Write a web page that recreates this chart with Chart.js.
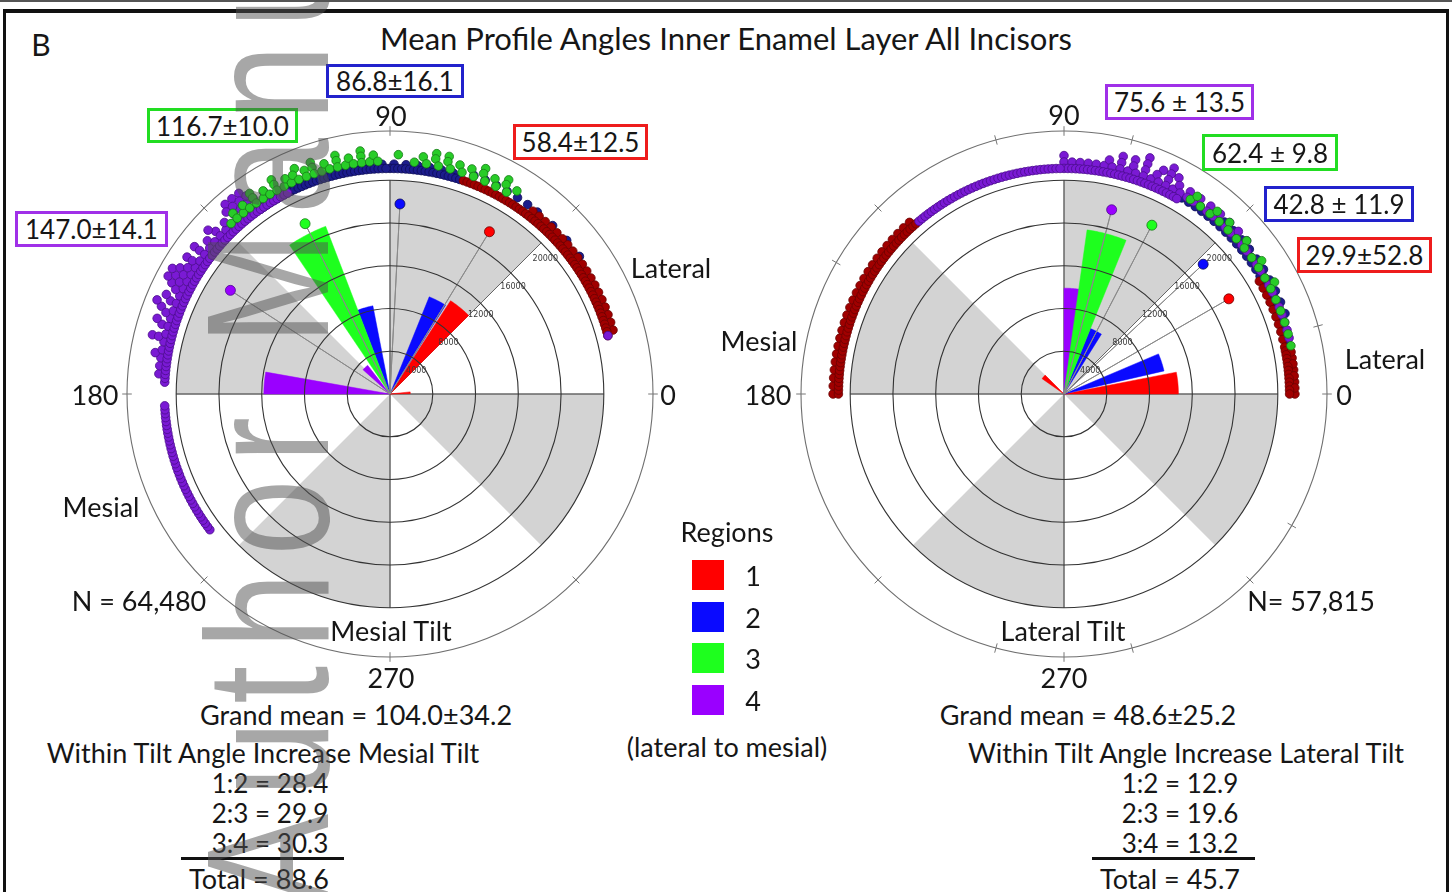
<!DOCTYPE html>
<html lang="en">
<head>
<meta charset="utf-8">
<title>Mean Profile Angles Inner Enamel Layer All Incisors</title>
<script src="https://cdn.jsdelivr.net/npm/chart.js@4.4.1/dist/chart.umd.min.js"></script>
<style>
  html, body { margin: 0; padding: 0; background: #fff; }
  body { width: 1452px; height: 892px; position: relative; overflow: hidden;
         font-family: Lato, "Open Sans", sans-serif; color: #161616; }
  .t { position: absolute; white-space: nowrap; line-height: 1; font-size: 27px;
       transform: translate(-50%, -50%); z-index: 3; }
  .caixa { position: absolute; box-sizing: border-box; border: 3px solid;
           display: flex; align-items: center; justify-content: center;
           font-size: 26px; background: #fff; white-space: nowrap; z-index: 3; }
  canvas { position: absolute; top: 94px; z-index: 1; }
  #roseMesial { left: 90px; }
  #roseLateral { left: 764px; }
  .linha { position: absolute; background: #111; z-index: 3; }
  .leg { position: absolute; width: 32px; height: 30px; z-index: 3; }
  #marca { position: absolute; left: 0; top: 0; transform-origin: 0 0;
           transform: translate(180px, 905px) rotate(-90deg) scaleX(0.78);
           font-family: "Liberation Sans", Arial, sans-serif; font-size: 175px;
           line-height: 1; letter-spacing: 22px; white-space: nowrap;
           color: rgba(80, 80, 80, 0.5); z-index: 5; pointer-events: none; }
</style>
</head>
<body>
<!-- moldura -->
<div class="linha" style="left:0;top:0;width:1452px;height:2px;background:#555"></div>
<div class="linha" style="left:3px;top:9px;width:1446px;height:4px"></div>
<div class="linha" style="left:3px;top:9px;width:3px;height:883px"></div>
<div class="linha" style="left:1446px;top:9px;width:3px;height:883px"></div>

<div class="t" style="left:41px;top:44px;font-size:30px">B</div>
<div class="t" style="left:726px;top:38px;font-size:31px">Mean Profile Angles Inner Enamel Layer All Incisors</div>

<canvas id="roseMesial" width="600" height="600"></canvas>
<canvas id="roseLateral" width="600" height="600"></canvas>

<!-- rosa esquerda -->
<div class="t" style="left:391px;top:115px">90</div>
<div class="t" style="left:95px;top:394px">180</div>
<div class="t" style="left:668px;top:394px">0</div>
<div class="t" style="left:391px;top:677px">270</div>
<div class="t" style="left:671px;top:267px">Lateral</div>
<div class="t" style="left:101px;top:506px">Mesial</div>
<div class="t" style="left:139px;top:600px">N = 64,480</div>
<div class="t" style="left:391px;top:630px">Mesial Tilt</div>
<div class="t" style="left:356px;top:714px">Grand mean = 104.0±34.2</div>
<div class="t" style="left:263px;top:752px">Within Tilt Angle Increase Mesial Tilt</div>
<div class="t" style="left:270px;top:783px;font-size:26px">1:2 = 28.4</div>
<div class="t" style="left:270px;top:813px;font-size:26px">2:3 = 29.9</div>
<div class="t" style="left:270px;top:843px;font-size:26px">3:4 = 30.3</div>
<div class="linha" style="left:181px;top:857px;width:163px;height:3px"></div>
<div class="t" style="left:259px;top:878px">Total = 88.6</div>

<!-- rosa direita -->
<div class="t" style="left:1064px;top:114px">90</div>
<div class="t" style="left:768px;top:394px">180</div>
<div class="t" style="left:1344px;top:394px">0</div>
<div class="t" style="left:1064px;top:677px">270</div>
<div class="t" style="left:1385px;top:358px">Lateral</div>
<div class="t" style="left:759px;top:340px">Mesial</div>
<div class="t" style="left:1311px;top:600px">N= 57,815</div>
<div class="t" style="left:1063px;top:630px">Lateral Tilt</div>
<div class="t" style="left:1088px;top:714px">Grand mean = 48.6±25.2</div>
<div class="t" style="left:1186px;top:752px">Within Tilt Angle Increase Lateral Tilt</div>
<div class="t" style="left:1180px;top:783px;font-size:26px">1:2 = 12.9</div>
<div class="t" style="left:1180px;top:813px;font-size:26px">2:3 = 19.6</div>
<div class="t" style="left:1180px;top:843px;font-size:26px">3:4 = 13.2</div>
<div class="linha" style="left:1092px;top:857px;width:163px;height:3px"></div>
<div class="t" style="left:1170px;top:878px">Total = 45.7</div>

<!-- legenda -->
<div class="t" style="left:727px;top:531px">Regions</div>
<div id="legenda"></div>
<div class="t" style="left:727px;top:746px">(lateral to mesial)</div>

<div id="caixas"></div>
<div id="marca">Author Manuscript</div>

<script>
const PASSO = 0.5;                 // graus por rótulo do eixo angular
const N_ROTULOS = 360 / PASSO;
const R_MAX = 24600;               // anel externo
const R_SETOR = 20000;             // limite das faixas cinzas
const R_MEDIA = 17800;             // raio dos pontos de média

const aneis = [4000, 8000, 12000, 16000, 20000];
const regioes = ['1', '2', '3', '4'];

// Inclinação mesial (rosa da esquerda): barras [início, fim] em graus
const mesialRegiao   = [1, 1, 2, 2, 3, 4, 4];
const mesialInicio   = [45, 1, 58, 101, 111, 128, 170];
const mesialFim      = [57, 6, 68, 111, 124, 138, 180];
const mesialContagem = [10400, 1900, 9800, 8400, 16800, 3400, 11800];
const mesialMedia    = [58.4, 86.8, 116.7, 147.0];
const mesialDP       = [12.5, 16.1, 10.0, 14.1];

// Inclinação lateral (rosa da direita)
const lateralRegiao   = [1, 1, 2, 2, 3, 4];
const lateralInicio   = [0, 135, 13, 58, 68, 80];
const lateralFim      = [11, 145, 23, 68, 82, 90];
const lateralContagem = [10700, 2500, 9600, 6600, 15500, 9900];
const lateralMedia    = [29.9, 42.8, 62.4, 75.6];
const lateralDP       = [52.8, 11.9, 9.8, 13.5];

// Ângulos individuais no anel externo: [raio, [ângulos]]
const mesialPontos1 = [
  [21100, [15, 16, 17, 18, 19, 20, 21, 22, 23, 24, 25, 26, 27, 28, 29, 30, 31, 32, 33, 34, 35, 36, 37, 38, 39, 40, 41, 42, 43,
           44, 45, 46, 47, 48, 49, 50, 51, 52, 53, 54, 55, 56, 57, 58, 59, 60, 61, 62, 63, 64, 65, 66, 67, 68, 69, 70, 71]],
  [21700, [16, 18, 20, 22, 24, 26, 28, 30, 32, 34, 36, 38, 40, 42, 44, 46, 48, 50, 52]]
];
const mesialPontos2 = [
  [21100, [72, 73, 74, 75, 76, 77, 78, 79, 80, 81, 82, 83, 84, 85, 86, 87, 88, 89, 90, 91, 92, 93, 94, 95, 96, 97, 98,
           99, 100, 101, 102, 103, 104, 105, 106, 107, 108, 109, 110, 111, 112, 113, 114, 115, 116, 117, 118, 119, 120, 121, 122, 123, 124, 125]],
  [21500, [74, 77, 80, 83, 86, 89, 92, 95, 98, 101, 104, 107, 110, 113, 116, 119]],
  [21900, [36, 41, 46, 51, 54, 57, 60, 63, 66, 69]]
];
const mesialPontos3 = [
  [21800, [60, 63, 66, 69, 72, 75, 78, 81, 84, 93, 95, 97, 99, 101, 103, 105, 107, 109, 111, 113, 115, 117, 119, 121, 123, 125, 127, 129, 131, 133]],
  [22400, [58, 61, 64, 67, 70, 73, 76, 79, 82, 88, 94, 97, 100, 103, 106, 109, 111, 114, 116, 119, 122, 125, 128, 131]],
  [22900, [61, 67, 76, 79, 97, 103, 109, 113, 119, 125]]
];
const mesialPontos4 = [
  [21100, [15, 117, 118, 119, 120, 121, 122, 123, 124, 125, 126, 127, 128, 129, 130, 131, 132, 133, 134, 135, 136, 137, 138, 139,
           140, 141, 142, 143, 144, 145, 146, 147, 148, 149, 150, 151, 152, 153, 154, 155, 156, 157, 158, 159, 160, 161, 162,
           163, 164, 165, 166, 167, 168, 169, 170, 171, 172, 173, 174, 175, 176, 177,
           183, 184, 185, 186, 187, 188, 189, 190, 191, 192, 193, 194, 195, 196, 197, 198, 199, 200, 201, 202, 203, 204, 205,
           206, 207, 208, 209, 210, 211, 212, 213, 214, 215, 216, 217]],
  [21700, [119, 121, 123, 125, 127, 129, 131, 133, 135, 137, 139, 141, 143, 145, 147, 149, 151, 153, 155, 157, 159, 161, 163,
           165, 167, 169, 171, 173, 175]],
  [22300, [122, 125, 127, 129, 131, 134, 137, 140, 143, 146, 148, 150, 152, 154, 157, 160, 163, 166, 170]],
  [22900, [126, 128, 130, 132, 138, 143, 146, 149, 151, 153, 156, 159, 162, 166]],
  [23500, [127, 129, 131, 150, 152, 158]]
];

const lateralPontos1 = [
  [21100, [0, 1, 2, 3, 4, 5, 6, 7, 8, 9, 10, 11, 12, 14, 16, 18, 20, 22, 24, 26, 28, 30,
           131, 132, 133, 134, 135, 136, 137, 138, 139, 140, 141, 142, 143, 144, 145, 146, 147, 148, 149, 150, 151, 152, 153,
           154, 155, 156, 157, 158, 159, 160, 161, 162, 163, 164, 165, 166, 167, 168, 169, 170, 171, 172, 173, 174, 175, 176,
           177, 178, 179, 180]],
  [21600, [0, 1.5, 3, 4.5, 6, 7.5, 9, 10.5, 132, 134, 136, 138, 140, 142, 144, 146, 148, 150, 152, 154, 156, 158, 160, 162,
           164, 166, 168, 170, 172, 174, 176, 178, 180]]
];
const lateralPontos2 = [
  [21400, [5, 7, 9, 11, 13, 15, 17, 19, 21, 23, 25, 27, 29, 31, 33, 35, 37, 39, 41, 43, 45, 47, 49, 51, 53, 55, 57, 59]],
  [22000, [20, 23, 26, 29, 32, 35, 38, 41, 44, 47, 50]]
];
const lateralPontos3 = [
  [21700, [12, 15, 18, 21, 24, 27, 30, 33, 36, 39, 42, 45, 48, 51, 54, 57]],
  [22300, [28, 34, 40, 46, 50, 56]]
];
const lateralPontos4 = [
  [21100, [60, 61, 62, 63, 64, 65, 66, 67, 68, 69, 70, 71, 72, 73, 74, 75, 76, 77, 78, 79, 80, 81, 82, 83, 84, 85, 86, 87,
           88, 89, 90, 91, 92, 93, 94, 95, 96, 97, 98, 99, 100, 101, 102, 103, 104, 105, 106, 107, 108, 109, 110, 111, 112,
           113, 114, 115, 116, 117, 118, 119, 120, 121, 122, 123, 124, 125, 126, 127, 128, 129, 130]],
  [21700, [14, 16, 18, 20, 22, 24, 26, 28, 30, 32, 34, 36, 38, 40, 42, 44, 46, 48, 50, 52, 54, 56, 58, 60, 62, 64, 66, 68,
           70, 72, 74, 76, 78, 80, 82, 84, 86, 88, 90]],
  [22300, [40, 43, 46, 49, 52, 55, 58, 61, 64, 67, 70, 73, 76, 79, 90]],
  [22900, [62, 64, 66, 70, 73, 76]],
  [23500, [64, 70]]
];

const setoresCinza = [[45, 90], [135, 180], [225, 270], [315, 360]];
const eixos = [0, 45, 90, 180, 270];

const corBarra = ['#ff0000', '#0a0aff', '#1eff1e', '#9a00ff'];
const corAnel  = ['#a00000', '#1c1c8c', '#28cc28', '#7a1ad4'];
const bordaAnel = ['#6a0000', '#0d0d55', '#167a16', '#4a0c8c'];
const corCaixa = ['#ee1c1c', '#2222cc', '#22dd22', '#a030e8'];

function indiceAngulo(graus) {
  const a = (((90 - graus) % 360) + 360) % 360;
  return Math.round(a / PASSO) % N_ROTULOS;
}

function serieVazia(valor) {
  return new Array(N_ROTULOS).fill(valor);
}

function faixa(arr, ini, fim, valor) {
  for (let a = ini; a <= fim + 1e-9; a += PASSO) arr[indiceAngulo(a)] = valor;
}

function montarDatasets(regiao, inicio, fim, contagem, media, pontos) {
  const ds = [];

  const cinza = serieVazia(0);
  setoresCinza.forEach(([a, b]) => faixa(cinza, a, b, R_SETOR));
  ds.push({ data: cinza, fill: 'origin', backgroundColor: '#d3d3d3', borderWidth: 0, order: 10 });

  const raios = serieVazia(0);
  eixos.forEach(a => { raios[indiceAngulo(a)] = R_SETOR; });
  ds.push({ data: raios, fill: false, borderColor: '#666', borderWidth: 1, order: 9 });

  // barras de cada região
  const ordemBarra = [5.5, 5.2, 5, 6];
  regioes.forEach((reg, k) => {
    const serie = serieVazia(0);
    regiao.forEach((r, i) => {
      if (r === k + 1) faixa(serie, inicio[i], fim[i], contagem[i]);
    });
    ds.push({ label: reg, data: serie, fill: 'origin', backgroundColor: corBarra[k],
              borderColor: corBarra[k], borderWidth: 0.5, order: ordemBarra[k] });
  });

  // linha e ponto da média
  media.forEach((m, k) => {
    const serie = serieVazia(0);
    serie[indiceAngulo(m)] = R_MEDIA;
    ds.push({ data: serie, fill: false, borderColor: '#8a8a8a', borderWidth: 1,
              pointRadius: c => (c.raw ? 5 : 0), pointBackgroundColor: corBarra[k],
              pointBorderColor: bordaAnel[k], pointBorderWidth: 0.8, order: 3 });
  });

  // pontos do anel externo, em camadas quando o ângulo se repete
  const ordemAnel = [2.3, 2.4, 2.1, 2.2];
  pontos.forEach((lista, k) => {
    const camadas = [];
    lista.forEach(([raio, angulos]) => {
      angulos.forEach(a => {
        const i = indiceAngulo(a);
        let c = camadas.find(s => s[i] === null);
        if (!c) { c = serieVazia(null); camadas.push(c); }
        c[i] = raio;
      });
    });
    camadas.forEach(c => ds.push({ data: c, showLine: false, fill: false,
      pointRadius: 4.3, pointBackgroundColor: corAnel[k], pointBorderColor: bordaAnel[k],
      pointBorderWidth: 0.8, order: ordemAnel[k] }));
  });
  return ds;
}

const decoracaoPolar = {
  id: 'decoracaoPolar',
  afterDraw(chart, args, opts) {
    const r = chart.scales.r;
    const ctx = chart.ctx;
    ctx.save();
    ctx.strokeStyle = '#777';
    ctx.lineWidth = 1;
    opts.marcas.forEach(a => {
      const i = indiceAngulo(a);
      const p1 = r.getPointPositionForValue(i, r.max - 450);
      const p2 = r.getPointPositionForValue(i, r.max + 450);
      ctx.beginPath(); ctx.moveTo(p1.x, p1.y); ctx.lineTo(p2.x, p2.y); ctx.stroke();
    });
    ctx.font = '8px "DejaVu Sans"';
    ctx.fillStyle = '#3a3a3a';
    ctx.textAlign = 'center';
    ctx.textBaseline = 'middle';
    const ia = indiceAngulo(41);
    aneis.forEach(v => {
      const p = r.getPointPositionForValue(ia, v - 750);
      ctx.fillText(String(v), p.x, p.y);
    });
    ctx.restore();
  }
};

function criarRosa(id, datasets, marcas) {
  const rotulos = Array.from({ length: N_ROTULOS }, (_, i) => String(i));
  return new Chart(document.getElementById(id), {
    type: 'radar',
    data: { labels: rotulos, datasets: datasets },
    options: {
      responsive: false,
      animation: false,
      events: [],
      layout: { padding: 37 },
      elements: { line: { tension: 0 }, point: { radius: 0 } },
      plugins: {
        legend: { display: false },
        tooltip: { enabled: false },
        decoracaoPolar: { marcas: marcas }
      },
      scales: {
        r: {
          min: 0,
          max: R_MAX,
          startAngle: 0,
          ticks: { display: false, stepSize: 4000 },
          afterBuildTicks: eixo => {
            eixo.ticks = [0].concat(aneis, [R_MAX]).map(v => ({ value: v }));
          },
          pointLabels: { display: false },
          angleLines: { display: false },
          grid: {
            circular: true,
            z: 1,
            lineWidth: 1.1,
            color: c => c.tick.value <= R_SETOR ? '#333' : '#6f6f6f'
          }
        }
      }
    },
    plugins: [decoracaoPolar]
  });
}

criarRosa('roseMesial',
  montarDatasets(mesialRegiao, mesialInicio, mesialFim, mesialContagem, mesialMedia,
                 [mesialPontos1, mesialPontos2, mesialPontos3, mesialPontos4]),
  [0, 45, 90, 135, 180, 225, 270, 315]);

criarRosa('roseLateral',
  montarDatasets(lateralRegiao, lateralInicio, lateralFim, lateralContagem, lateralMedia,
                 [lateralPontos1, lateralPontos2, lateralPontos3, lateralPontos4]),
  [0, 15, 45, 75, 90, 105, 135, 150, 180, 225, 255, 270, 285, 315, 330]);

// caixas com média ± desvio
const caixasMesial = [
  { left: 513, top: 124, w: 135, h: 36 },
  { left: 326, top: 64, w: 138, h: 34 },
  { left: 147, top: 108, w: 151, h: 35 },
  { left: 15, top: 211, w: 153, h: 36 }
];
const caixasLateral = [
  { left: 1297, top: 237, w: 135, h: 36 },
  { left: 1264, top: 186, w: 150, h: 36 },
  { left: 1202, top: 134, w: 136, h: 37 },
  { left: 1105, top: 84, w: 149, h: 36 }
];
const sepLateral = ['±', ' ± ', ' ± ', ' ± '];

const alvo = document.getElementById('caixas');
function addCaixa(pos, texto, cor) {
  const d = document.createElement('div');
  d.className = 'caixa';
  d.style.left = pos.left + 'px';
  d.style.top = pos.top + 'px';
  d.style.width = pos.w + 'px';
  d.style.height = pos.h + 'px';
  d.style.borderColor = cor;
  d.textContent = texto;
  alvo.appendChild(d);
}
mesialMedia.forEach((m, k) => addCaixa(caixasMesial[k], m.toFixed(1) + '±' + mesialDP[k].toFixed(1), corCaixa[k]));
lateralMedia.forEach((m, k) => addCaixa(caixasLateral[k], m.toFixed(1) + sepLateral[k] + lateralDP[k].toFixed(1), corCaixa[k]));

// legenda das regiões
const legenda = document.getElementById('legenda');
const topoLeg = [560, 602, 643, 685];
regioes.forEach((reg, k) => {
  const q = document.createElement('div');
  q.className = 'leg';
  q.style.left = '692px';
  q.style.top = topoLeg[k] + 'px';
  q.style.background = corBarra[k];
  legenda.appendChild(q);
  const n = document.createElement('div');
  n.className = 't';
  n.style.left = '753px';
  n.style.top = (topoLeg[k] + 15) + 'px';
  n.textContent = reg;
  legenda.appendChild(n);
});
</script>
</body>
</html>
